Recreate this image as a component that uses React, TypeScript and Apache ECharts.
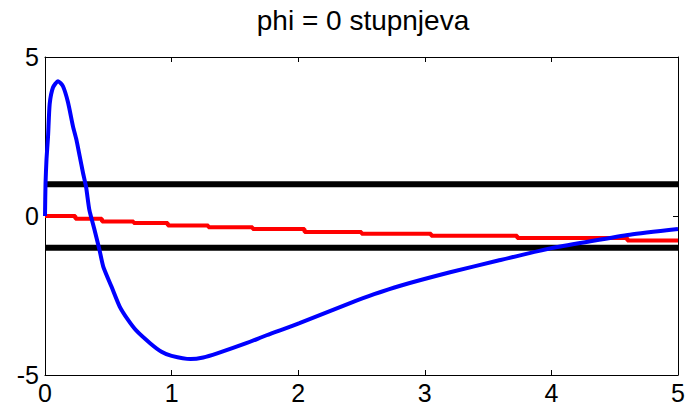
import React, { useEffect, useRef } from "react";
import * as echarts from "echarts";

const title = "phi = 0 stupnjeva";
const xTicks = [0, 1, 2, 3, 4, 5];
const yTicks = [-5, 0, 5];

const blueX = [0, 0.004, 0.012, 0.024, 0.037, 0.063, 0.103, 0.142, 0.182, 0.221, 0.248, 0.274, 0.3, 0.325, 0.35, 0.39, 0.43, 0.46, 0.525, 0.59, 0.656, 0.72, 0.83, 0.92, 1.0, 1.15, 1.25, 1.36, 1.59, 1.75, 2.01, 2.41, 2.6, 2.8, 3.2, 3.58, 4.0, 4.3, 4.62, 5];
const blueY = [0, 1.0, 1.8, 2.5, 3.52, 4.04, 4.24, 4.08, 3.57, 2.82, 2.4, 1.88, 1.36, 0.9, 0.2, -0.42, -1.06, -1.59, -2.22, -2.85, -3.27, -3.6, -4.0, -4.27, -4.4, -4.5, -4.45, -4.32, -4.0, -3.75, -3.37, -2.74, -2.46, -2.2, -1.77, -1.4, -1.01, -0.8, -0.59, -0.41];

const redX = [0, 0.24, 0.45, 0.7, 0.97, 1.29, 1.64, 2.05, 2.5, 3.05, 3.73, 4.6, 5];
const redY = [0, -0.09, -0.17, -0.22, -0.3, -0.35, -0.41, -0.5, -0.56, -0.62, -0.69, -0.77, -0.77];

const upperBound = [[0, 1], [5, 1]];
const lowerBound = [[0, -1], [5, -1]];

export default function App() {
  const ref = useRef<HTMLDivElement>(null);
  useEffect(() => {
    if (!ref.current) return;
    const chart = echarts.init(ref.current, null, { renderer: "svg" });
    const font = "Liberation Sans, Arial, sans-serif";
    const axisCommon = {
      type: "value" as const,
      axisLine: { show: true, onZero: false, lineStyle: { color: "#000", width: 1 } },
      axisTick: { show: true, inside: true, length: 5, lineStyle: { color: "#000" } },
      splitLine: { show: false },
    };
    chart.setOption({
      animation: false,
      backgroundColor: "#fff",
      title: {
        text: title,
        left: 358,
        textAlign: "center",
        top: 1,
        textStyle: { fontFamily: font, fontSize: 28, fontWeight: "normal", color: "#000" },
      },
      grid: { left: 45, right: 10, top: 57, bottom: 36 },
      xAxis: [
        {
          ...axisCommon,
          position: "bottom",
          min: 0,
          max: 5,
          interval: 1,
          axisLabel: { fontFamily: font, fontSize: 25, color: "#000", margin: 5, formatter: (v: number) => (xTicks.includes(v) ? String(v) : "") },
        },
        {
          ...axisCommon,
          position: "top",
          min: 0,
          max: 5,
          interval: 1,
          axisLabel: { show: false },
        },
      ],
      yAxis: [
        {
          ...axisCommon,
          position: "left",
          min: -5,
          max: 5,
          interval: 5,
          axisLabel: { fontFamily: font, fontSize: 25, color: "#000", margin: 6, formatter: (v: number) => (yTicks.includes(v) ? String(v) : "") },
        },
        {
          ...axisCommon,
          position: "right",
          min: -5,
          max: 5,
          interval: 5,
          axisLabel: { show: false },
        },
      ],
      series: [
        {
          type: "line",
          data: upperBound,
          symbol: "none",
          lineStyle: { color: "#000", width: 6 },
          z: 2,
        },
        {
          type: "line",
          data: lowerBound,
          symbol: "none",
          lineStyle: { color: "#000", width: 6 },
          z: 2,
        },
        {
          type: "line",
          data: redX.map((x, i) => [x, redY[i]]),
          step: "end",
          symbol: "none",
          lineStyle: { color: "#ff0000", width: 4 },
          z: 3,
        },
        {
          type: "line",
          data: blueX.map((x, i) => [x, blueY[i]]),
          symbol: "none",
          smooth: 0.2,
          lineStyle: { color: "#0000ff", width: 4 },
          z: 4,
        },
      ],
    });
    return () => chart.dispose();
  }, []);
  return <div ref={ref} style={{ width: 688, height: 411, position: "absolute", left: 0, top: 0 }} />;
}
